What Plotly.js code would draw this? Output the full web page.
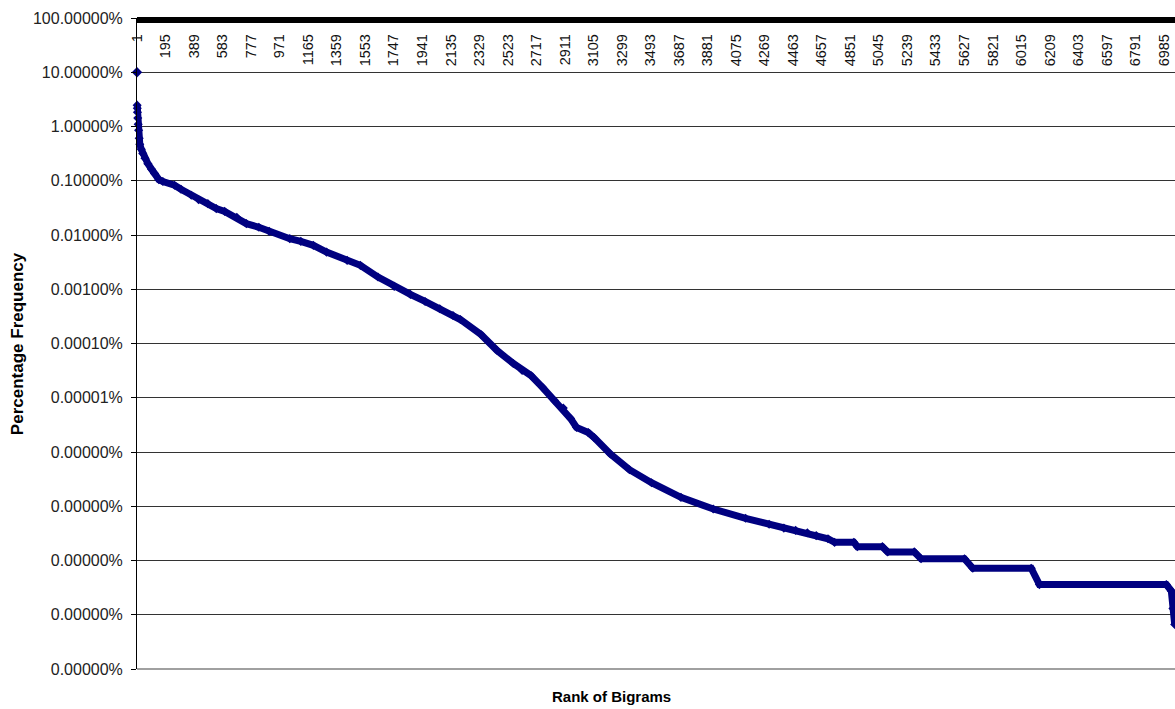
<!DOCTYPE html>
<html>
<head>
<meta charset="utf-8">
<script src="https://cdn.plot.ly/plotly-3.0.1.min.js"></script>
<style>html,body{margin:0;padding:0;background:#fff;}#chart{width:1175px;height:709px;}</style>
</head>
<body>
<div id="chart"></div>
<script>
// Rank of each read point
const ranks = [1, 2, 3, 4, 6, 9, 12, 16, 20, 30, 40, 55, 75, 100, 120, 150, 177, 256, 300, 370, 420, 483, 540, 597, 680, 745, 830, 900, 1040, 1115, 1200, 1290, 1430, 1520, 1640, 1750, 1860, 1960, 2060, 2150, 2200, 2340, 2450, 2560, 2620, 2680, 2760, 2840, 2900, 2950, 2990, 3070, 3110, 3220, 3350, 3500, 3700, 3920, 4140, 4300, 4400, 4480, 4560, 4620, 4700, 4745, 4876, 4900, 5070, 5106, 5287, 5333, 5628, 5685, 6082, 6138, 7001, 7035, 7046, 7058];
// Percentage frequency (in %)
const freqPct = [10, 2.48, 2.18, 1.84, 1.43, 1.10, 0.855, 0.61, 0.472, 0.382, 0.318, 0.26, 0.207, 0.163, 0.136, 0.105, 0.097, 0.0826, 0.0697, 0.054, 0.0446, 0.0379, 0.0307, 0.0273, 0.0212, 0.0162, 0.0139, 0.0117, 0.00857, 0.00764, 0.00645, 0.00485, 0.00341, 0.00276, 0.00168, 0.00113, 0.000804, 0.000597, 0.000438, 0.000329, 0.000277, 0.000147, 0.0000743, 0.0000428, 0.0000318, 0.0000257, 0.0000154, 8.87e-6, 6.45e-6, 4.13e-6, 2.85e-6, 2.28e-6, 1.84e-6, 9.2e-7, 4.72e-7, 2.72e-7, 1.46e-7, 8.9e-8, 6.0e-8, 4.66e-8, 3.96e-8, 3.6e-8, 3.24e-8, 2.88e-8, 2.52e-8, 2.16e-8, 2.16e-8, 1.8e-8, 1.8e-8, 1.44e-8, 1.44e-8, 1.08e-8, 1.08e-8, 7.2e-9, 7.2e-9, 3.6e-9, 3.6e-9, 2.75e-9, 1.3e-9, 6.6e-10];

const xTickVals = [1, 195, 389, 583, 777, 971, 1165, 1359, 1553, 1747, 1941, 2135, 2329, 2523, 2717, 2911, 3105, 3299, 3493, 3687, 3881, 4075, 4269, 4463, 4657, 4851, 5045, 5239, 5433, 5627, 5821, 6015, 6209, 6403, 6597, 6791, 6985];
const xTickText = xTickVals.map(String);
const yTickVals = [100, 10, 1, 0.1, 0.01, 0.001, 0.0001, 0.00001, 0.000001, 1e-7, 1e-8, 1e-9, 1e-10];
const yTickText = ["100.00000%", "10.00000%", "1.00000%", "0.10000%", "0.01000%", "0.00100%", "0.00010%", "0.00001%", "0.00000%", "0.00000%", "0.00000%", "0.00000%", "0.00000%"];

const NAVY = '#000080';
const FONT = '"Liberation Sans", Arial, sans-serif';

const traces = [
  {
    x: ranks.slice(0, 1), y: freqPct.slice(0, 1),
    type: 'scatter', mode: 'markers', cliponaxis: false,
    marker: {symbol: 'diamond', size: 8, color: NAVY},
    hoverinfo: 'x+y', showlegend: false
  },
  {
    x: ranks.slice(1), y: freqPct.slice(1),
    type: 'scatter', mode: 'lines+markers', cliponaxis: false,
    line: {color: NAVY, width: 7},
    marker: {symbol: 'diamond', size: 7, color: NAVY},
    hoverinfo: 'x+y', showlegend: false
  }
];

const layout = {
  width: 1175, height: 709,
  margin: {l: 137, r: 0, t: 18, b: 40, pad: 0},
  paper_bgcolor: '#ffffff', plot_bgcolor: '#ffffff',
  font: {family: FONT, size: 14, color: '#000'},
  showlegend: false,
  xaxis: {
    type: 'linear', range: [1, 7060], side: 'top',
    tickmode: 'array', tickvals: xTickVals, ticktext: xTickText,
    tickangle: -90, ticklabelposition: 'inside', ticklabeloverflow: 'allow',
    ticks: 'inside', ticklen: 8, tickcolor: 'rgba(0,0,0,0)',
    showgrid: false, zeroline: false, showline: false,
    tickfont: {family: FONT, size: 14.5, color: '#111'}
  },
  yaxis: {
    type: 'log', range: [-10, 2.0008],
    tickmode: 'array', tickvals: yTickVals, ticktext: yTickText,
    ticks: 'outside', ticklen: 5, tickcolor: '#000', tickwidth: 1,
    ticklabelstandoff: 5, ticklabeloverflow: 'allow',
    showline: true, linecolor: '#000', linewidth: 1,
    showgrid: true, gridcolor: '#333', gridwidth: 1,
    zeroline: false,
    tickfont: {family: FONT, size: 16, color: '#222'}
  },
  annotations: [
    {text: '<b>Percentage Frequency</b>', xref: 'paper', yref: 'paper', x: -0.115, y: 0.5,
     xanchor: 'center', yanchor: 'middle', textangle: -90, showarrow: false,
     font: {family: FONT, size: 17, color: '#000'}},
    {text: '<b>Rank of Bigrams</b>', xref: 'paper', yref: 'paper', x: 0.4576, y: -0.0415,
     xanchor: 'center', yanchor: 'middle', showarrow: false,
     font: {family: FONT, size: 15, color: '#000'}}
  ],
  shapes: [
    {type: 'rect', xref: 'paper', yref: 'paper', x0: 0, x1: 1, y0: 1 - 5 / 651, y1: 1 + 1 / 651,
     fillcolor: '#000', line: {width: 0}},
    {type: 'line', xref: 'paper', yref: 'paper', x0: 0, x1: 1, y0: 0, y1: 0,
     line: {color: '#808080', width: 1.5}}
  ]
};

Plotly.newPlot('chart', traces, layout, {staticPlot: true, displayModeBar: false});
</script>
</body>
</html>
